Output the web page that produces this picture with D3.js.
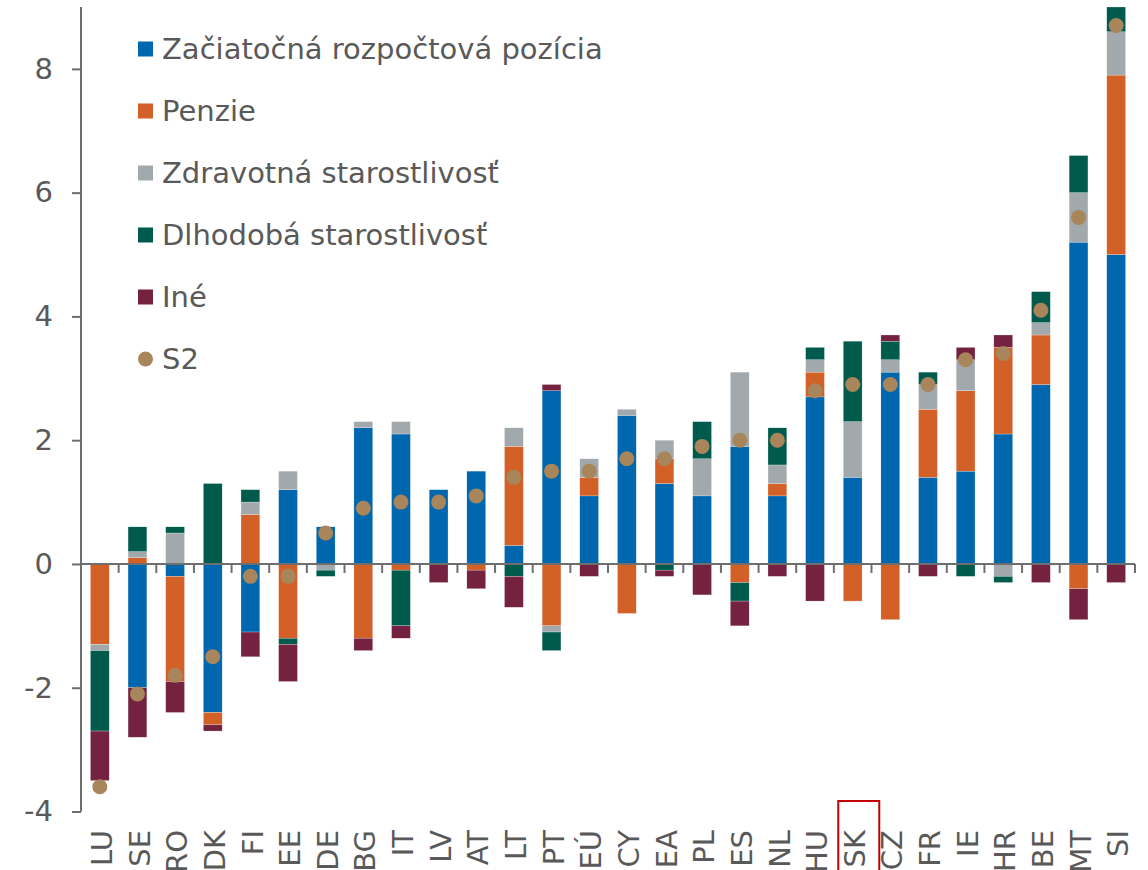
<!DOCTYPE html>
<html>
<head>
<meta charset="utf-8">
<script src="https://cdn.jsdelivr.net/npm/d3@7"></script>
<style>
  html, body { margin: 0; padding: 0; background: #fff; }
  svg { display: block; font-family: "DejaVu Sans", Verdana, sans-serif; }
</style>
</head>
<body>
<svg id="chart" width="1148" height="870"></svg>
<script>
const categories = ["LU","SE","RO","DK","FI","EE","DE","BG","IT","LV","AT","LT","PT","EÚ","CY","EA","PL","ES","NL","HU","SK","CZ","FR","IE","HR","BE","MT","SI"];

const seriesNames = ["Začiatočná rozpočtová pozícia","Penzie","Zdravotná starostlivosť","Dlhodobá starostlivosť","Iné"];
const dotName = "S2";

const initialPosition = [0,-2.0,-0.2,-2.4,-1.1,1.2,0.6,2.2,2.1,1.2,1.5,0.3,2.8,1.1,2.4,1.3,1.1,1.9,1.1,2.7,1.4,3.1,1.4,1.5,2.1,2.9,5.2,5.0];
const pensions        = [-1.3,0.1,-1.7,-0.2,0.8,-1.2,0,-1.2,-0.1,0,-0.1,1.6,-1.0,0.3,-0.8,0.4,0,-0.3,0.2,0.4,-0.6,-0.9,1.1,1.3,1.4,0.8,-0.4,2.9];
const healthCare      = [-0.1,0.1,0.5,0,0.2,0.3,-0.1,0.1,0.2,0,0,0.3,-0.1,0.3,0.1,0.3,0.6,1.2,0.3,0.2,0.9,0.2,0.4,0.5,-0.2,0.2,0.8,0.7];
const longTermCare    = [-1.3,0.4,0.1,1.3,0.2,-0.1,-0.1,0,-0.9,0,0,-0.2,-0.3,0,0,-0.1,0.6,-0.3,0.6,0.2,1.3,0.3,0.2,-0.2,-0.1,0.5,0.6,0.4];
const other           = [-0.8,-0.8,-0.5,-0.1,-0.4,-0.6,0,-0.2,-0.2,-0.3,-0.3,-0.5,0.1,-0.2,0,-0.1,-0.5,-0.4,-0.2,-0.6,0,0.1,-0.2,0.2,0.2,-0.3,-0.5,-0.3];
const s2              = [-3.6,-2.1,-1.8,-1.5,-0.2,-0.2,0.5,0.9,1.0,1.0,1.1,1.4,1.5,1.5,1.7,1.7,1.9,2.0,2.0,2.8,2.9,2.9,2.9,3.3,3.4,4.1,5.6,8.7];

const yTicks = [-4,-2,0,2,4,6,8];
const highlighted = "SK";

const colors = ["#0066AD","#D36027","#A2A9AD","#005B4D","#74223F"];
const dotColor = "#A8855A";
const textColor = "#595959";
const axisColor = "#6E6E6E";

const seriesValues = [initialPosition, pensions, healthCare, longTermCare, other];
const table = categories.map((c, i) => {
  const row = { cat: c, s2: s2[i] };
  seriesNames.forEach((n, k) => row[n] = seriesValues[k][i]);
  return row;
});

const svg = d3.select("#chart");

const x = d3.scaleBand().domain(categories).range([81, 1135]).paddingInner(0.5).paddingOuter(0.25);
const y = d3.scaleLinear().domain([-4, 9]).range([811.5, 7]);

const stack = d3.stack().keys(seriesNames).offset(d3.stackOffsetDiverging);
const stacked = stack(table);

// bars
svg.append("g").selectAll("g").data(stacked).join("g")
  .attr("fill", (d, i) => colors[i])
  .selectAll("rect").data(d => d).join("rect")
  .attr("x", d => x(d.data.cat))
  .attr("width", x.bandwidth())
  .attr("y", d => y(Math.max(d[0], d[1])))
  .attr("height", d => Math.abs(y(d[0]) - y(d[1])))
  .attr("stroke", "#ffffff").attr("stroke-width", 0.4).attr("stroke-opacity", 0.6);

// y axis
const yAxis = svg.append("g").attr("transform", "translate(81,0)")
  .call(d3.axisLeft(y).tickValues(yTicks).tickSize(9).tickPadding(19).tickFormat(d3.format("d")));
yAxis.select(".domain").remove();
yAxis.selectAll(".tick line").attr("stroke", axisColor).attr("stroke-width", 2);
yAxis.selectAll(".tick text").attr("fill", textColor).attr("font-size", 29)
  .attr("font-family", "DejaVu Sans, Verdana, sans-serif").text(d => d < 0 ? "-" + Math.abs(d) : d);
svg.append("line").attr("x1", 81).attr("x2", 81).attr("y1", y(9)).attr("y2", y(-4))
  .attr("stroke", axisColor).attr("stroke-width", 2);

// x axis line and boundary ticks
const step = x.step();
svg.append("line").attr("x1", 81).attr("x2", 1135).attr("y1", y(0)).attr("y2", y(0))
  .attr("stroke", axisColor).attr("stroke-width", 2);
svg.append("g").selectAll("line").data(categories).join("line")
  .attr("x1", d => x(d) + x.bandwidth() + step * 0.25)
  .attr("x2", d => x(d) + x.bandwidth() + step * 0.25)
  .attr("y1", y(0)).attr("y2", y(0) + 9)
  .attr("stroke", axisColor).attr("stroke-width", 2);

// x labels
svg.append("g").selectAll("text").data(categories).join("text")
  .attr("transform", d => `translate(${x(d) + x.bandwidth() / 2 + 2},830) rotate(-90)`)
  .attr("text-anchor", "end").attr("dy", "0.35em")
  .attr("font-size", 29).attr("fill", textColor)
  .text(d => d);

// highlight box
svg.append("rect")
  .attr("x", x(highlighted) - 5).attr("y", 801)
  .attr("width", 41).attr("height", 90)
  .attr("fill", "none").attr("stroke", "#C00000").attr("stroke-width", 2);

// S2 dots
svg.append("g").selectAll("circle").data(table).join("circle")
  .attr("cx", d => x(d.cat) + x.bandwidth() / 2)
  .attr("cy", d => y(d.s2))
  .attr("r", 7.5)
  .attr("fill", dotColor);

// legend
const legendItems = seriesNames.map((n, i) => ({ name: n, color: colors[i], type: "rect" }))
  .concat([{ name: dotName, color: dotColor, type: "circle" }]);
const lg = svg.append("g").selectAll("g").data(legendItems).join("g")
  .attr("transform", (d, i) => `translate(138,${49 + i * 62})`);
lg.filter(d => d.type === "rect").append("rect")
  .attr("x", 0).attr("y", -7.5).attr("width", 15).attr("height", 15).attr("fill", d => d.color);
lg.filter(d => d.type === "circle").append("circle")
  .attr("cx", 7.5).attr("cy", 0).attr("r", 7.5).attr("fill", d => d.color);
lg.append("text").attr("x", 24).attr("dy", "0.35em")
  .attr("font-size", 29).attr("fill", textColor).text(d => d.name);
</script>
</body>
</html>
